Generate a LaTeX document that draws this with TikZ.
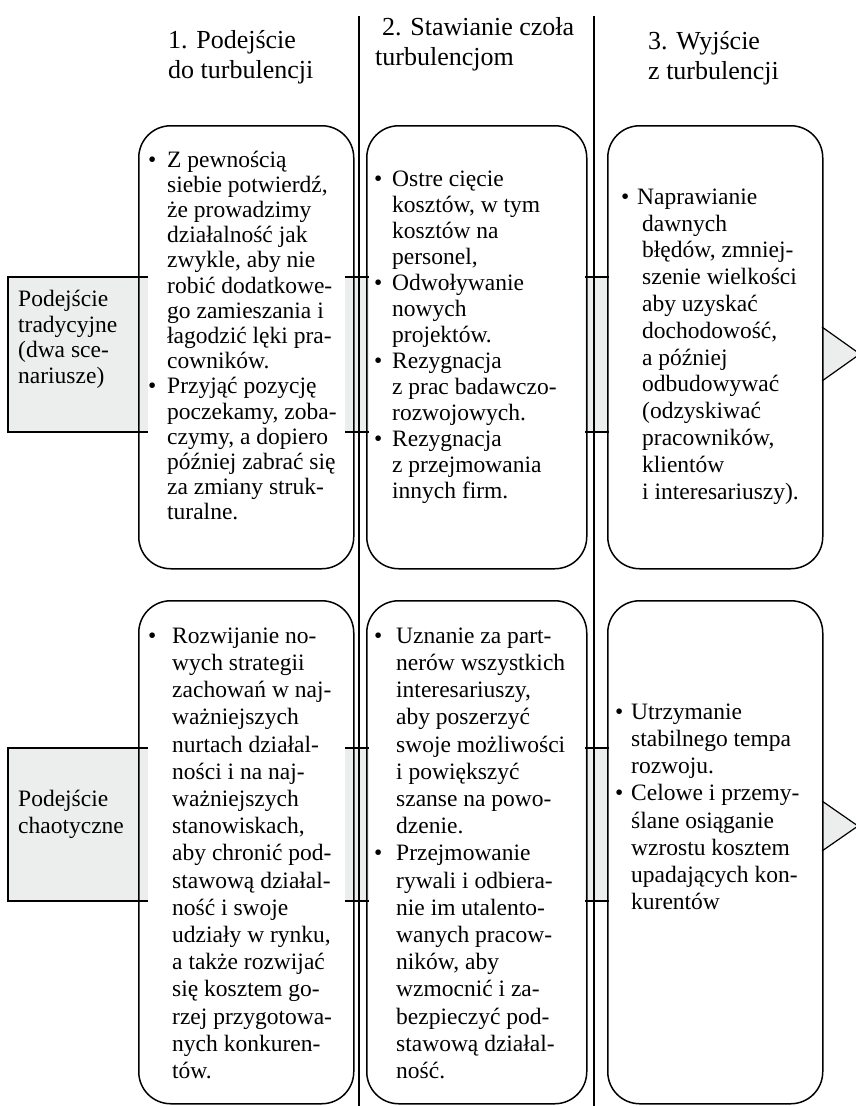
\documentclass[tikz,border=0pt]{standalone}
\usepackage{fontspec}
\setmainfont{Liberation Serif}
\definecolor{bandgrey}{RGB}{236,238,237}
% bullet line and continuation line with a hanging indent of width #1
\newcommand\bitem[2]{\makebox[#1][l]{\textbullet}#2}
\newcommand\bcont[2]{\makebox[#1][l]{}#2}
\tikzset{
  card/.style={draw, line width=1.5pt, rounded corners=32pt, inner sep=0pt, anchor=north west},
  divider/.style={line width=1.6pt},
  bandline/.style={line width=1.2pt},
  head/.style={anchor=north west, inner sep=0pt, align=left, font=\fontsize{26}{30}\selectfont},
  body/.style={anchor=north west, inner sep=0pt, align=left},
}
\begin{document}
\begin{tikzpicture}[x=1pt,y=-1pt]
\useasboundingbox (0,0) rectangle (855,1106);

% grey bands behind the cards, row 1
\fill[bandgrey] (8,277) rectangle (148,432);
\draw[bandline] (148,277) -- (8,277) -- (8,432) -- (148,432);
\fill[bandgrey] (345,277) rectangle (369,432);
\draw[bandline] (345,277) -- (369,277) (345,432) -- (369,432);
\fill[bandgrey] (585,277) rectangle (609,432);
\draw[bandline] (585,277) -- (609,277) (585,432) -- (609,432);
\fill[bandgrey] (822,327) -- (860,354) -- (822,381) -- cycle;
\draw[bandline] (822,327) -- (860,354) -- (822,381);

% grey bands behind the cards, row 2
\fill[bandgrey] (8,748) rectangle (148,901);
\draw[bandline] (148,748) -- (8,748) -- (8,901) -- (148,901);
\fill[bandgrey] (345,748) rectangle (369,901);
\draw[bandline] (345,748) -- (369,748) (345,901) -- (369,901);
\fill[bandgrey] (585,748) rectangle (609,901);
\draw[bandline] (585,748) -- (609,748) (585,901) -- (609,901);
\fill[bandgrey] (822,801) -- (858,826) -- (822,851) -- cycle;
\draw[bandline] (822,801) -- (858,826) -- (822,851);

% column dividers
\coordinate (d1top) at (359,16);
\coordinate (d1bot) at (359,1106);
\coordinate (d2top) at (594,16);
\coordinate (d2bot) at (594,1106);
\draw[divider] (d1top) -- (d1bot);
\draw[divider] (d2top) -- (d2bot);

% cards
\node[card, minimum width=215pt, minimum height=443pt] (c11) at (138,125) {};
\node[card, minimum width=220pt, minimum height=443pt] (c12) at (366,125) {};
\node[card, minimum width=215pt, minimum height=443pt] (c13) at (607,125) {};
\node[card, minimum width=215pt, minimum height=503pt] (c21) at (138,600) {};
\node[card, minimum width=220pt, minimum height=503pt] (c22) at (366,600) {};
\node[card, minimum width=215pt, minimum height=503pt] (c23) at (607,600) {};

% column headings
\node[head] (h1) at (168,30) {1. Podejście\\do turbulencji};
\node[head] (h2) at (375,17) {\hspace*{7pt}2. Stawianie czoła\\turbulencjom};
\node[head] (h3) at (648,31) {3. Wyjście\\z turbulencji};

% row labels
\node[body, font=\fontsize{23.5}{25.7}\selectfont] (l1) at (18,290) {Podejście\\tradycyjne\\(dwa sce-\\nariusze)};
\node[body, font=\fontsize{23.5}{27}\selectfont] (l2) at (18,790) {Podejście\\chaotyczne};

% card texts, row 1
\node[body, font=\fontsize{23.5}{25.2}\selectfont] (t11) at (148,150.5) {%
\bitem{19pt}{Z pewnością}\\
\bcont{19pt}{siebie potwierdź,}\\
\bcont{19pt}{że prowadzimy}\\
\bcont{19pt}{działalność jak}\\
\bcont{19pt}{zwykle, aby nie}\\
\bcont{19pt}{robić dodatkowe-}\\
\bcont{19pt}{go zamieszania i}\\
\bcont{19pt}{łagodzić lęki pra-}\\
\bcont{19pt}{cowników.}\\
\bitem{19pt}{Przyjąć pozycję}\\
\bcont{19pt}{poczekamy, zoba-}\\
\bcont{19pt}{czymy, a dopiero}\\
\bcont{19pt}{później zabrać się}\\
\bcont{19pt}{za zmiany struk-}\\
\bcont{19pt}{turalne.}};

\node[body, font=\fontsize{23.5}{26}\selectfont] (t12) at (374,170.5) {%
\bitem{18pt}{Ostre cięcie}\\
\bcont{18pt}{kosztów, w tym}\\
\bcont{18pt}{kosztów na}\\
\bcont{18pt}{personel,}\\
\bitem{18pt}{Odwoływanie}\\
\bcont{18pt}{nowych}\\
\bcont{18pt}{projektów.}\\
\bitem{18pt}{Rezygnacja}\\
\bcont{18pt}{z prac badawczo-}\\
\bcont{18pt}{rozwojowych.}\\
\bitem{18pt}{Rezygnacja}\\
\bcont{18pt}{z przejmowania}\\
\bcont{18pt}{innych firm.}};

\node[body, font=\fontsize{23.5}{26.8}\selectfont] (t13) at (621,188.5) {%
\bitem{16pt}{Naprawianie}\\
\bcont{21pt}{dawnych}\\
\bcont{21pt}{błędów, zmniej-}\\
\bcont{21pt}{szenie wielkości}\\
\bcont{21pt}{aby uzyskać}\\
\bcont{21pt}{dochodowość,}\\
\bcont{21pt}{a później}\\
\bcont{21pt}{odbudowywać}\\
\bcont{21pt}{(odzyskiwać}\\
\bcont{21pt}{pracowników,}\\
\bcont{21pt}{klientów}\\
\bcont{21pt}{i interesariuszy).}};

% card texts, row 2
\node[body, font=\fontsize{23.5}{27.2}\selectfont] (t21) at (148,627.5) {%
\bitem{24pt}{Rozwijanie no-}\\
\bcont{24pt}{wych strategii}\\
\bcont{24pt}{zachowań w naj-}\\
\bcont{24pt}{ważniejszych}\\
\bcont{24pt}{nurtach działal-}\\
\bcont{24pt}{ności i na naj-}\\
\bcont{24pt}{ważniejszych}\\
\bcont{24pt}{stanowiskach,}\\
\bcont{24pt}{aby chronić pod-}\\
\bcont{24pt}{stawową działal-}\\
\bcont{24pt}{ność i swoje}\\
\bcont{24pt}{udziały w rynku,}\\
\bcont{24pt}{a także rozwijać}\\
\bcont{24pt}{się kosztem go-}\\
\bcont{24pt}{rzej przygotowa-}\\
\bcont{24pt}{nych konkuren-}\\
\bcont{24pt}{tów.}};

\node[body, font=\fontsize{23.5}{27.2}\selectfont] (t22) at (374,627.5) {%
\bitem{22pt}{Uznanie za part-}\\
\bcont{22pt}{nerów wszystkich}\\
\bcont{22pt}{interesariuszy,}\\
\bcont{22pt}{aby poszerzyć}\\
\bcont{22pt}{swoje możliwości}\\
\bcont{22pt}{i powiększyć}\\
\bcont{22pt}{szanse na powo-}\\
\bcont{22pt}{dzenie.}\\
\bitem{22pt}{Przejmowanie}\\
\bcont{22pt}{rywali i odbiera-}\\
\bcont{22pt}{nie im utalento-}\\
\bcont{22pt}{wanych pracow-}\\
\bcont{22pt}{ników, aby}\\
\bcont{22pt}{wzmocnić i za-}\\
\bcont{22pt}{bezpieczyć pod-}\\
\bcont{22pt}{stawową działal-}\\
\bcont{22pt}{ność.}};

\node[body, font=\fontsize{23.5}{27.2}\selectfont] (t23) at (615,703.5) {%
\bitem{16pt}{Utrzymanie}\\
\bcont{16pt}{stabilnego tempa}\\
\bcont{16pt}{rozwoju.}\\
\bitem{16pt}{Celowe i przemy-}\\
\bcont{16pt}{ślane osiąganie}\\
\bcont{16pt}{wzrostu kosztem}\\
\bcont{16pt}{upadających kon-}\\
\bcont{16pt}{kurentów}};
\end{tikzpicture}
\end{document}
